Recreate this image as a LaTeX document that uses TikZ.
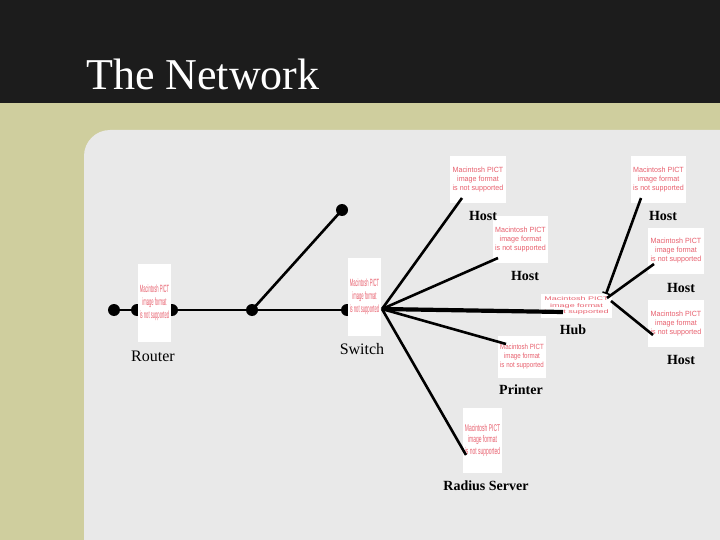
\documentclass[tikz,border=0pt]{standalone}
\usepackage{fontspec}
\usepackage{graphicx}
\setmainfont{Liberation Serif}
\newfontfamily\pictfont{Liberation Sans}
\usetikzlibrary{arrows.meta}
\definecolor{bandC}{RGB}{28,28,28}
\definecolor{oliveC}{RGB}{207,206,158}
\definecolor{panelC}{RGB}{233,233,233}
\definecolor{pictC}{RGB}{232,96,110}
\newcommand{\pictmsg}[2]{\scalebox{#1}[#2]{\pictfont\fontsize{7.5}{9}\selectfont\begin{tabular}{@{}c@{}}Macintosh PICT\\image format\\is not supported\end{tabular}}}

\begin{document}
\begin{tikzpicture}[
  x=1pt, y=-1pt,
  pict/.style={fill=white, inner sep=0pt, text=pictC, align=center},
  lbl/.style={font=\fontsize{16}{18}\selectfont, inner sep=0pt},
  lblb/.style={font=\fontsize{14}{16}\selectfont\bfseries, inner sep=0pt},
  dot/.style={circle, fill=black, minimum size=12pt, inner sep=0pt},
  link/.style={line width=2.6pt, draw=black},
  trunk/.style={line width=4.2pt, draw=black},
]
\useasboundingbox (0,0) rectangle (720,540);

% ---------- background ----------
\fill[oliveC] (0,0) rectangle (720,540);
\fill[bandC] (0,0) rectangle (720,103);
\fill[panelC, rounded corners=26pt] (84,600) -- (84,130) -- (780,130) -- (780,600) -- cycle;
\node[anchor=base west, text=white, font=\fontsize{44}{48}\selectfont, inner sep=0pt] (title) at (86,90) {The Network};

% ---------- bus ----------
\node[dot] (dL) at (114,310) {};
\node[dot] (dR1) at (137,310) {};
\node[dot] (dR2) at (172,310) {};
\node[dot] (dMid) at (252,310) {};
\node[dot] (dSw) at (347,310) {};
\node[dot] (dTop) at (342,210) {};
\draw[link] (dL.center) -- (dSw.center);
\draw[link] (dMid.center) -- (dTop.center);

% ---------- devices ----------
\node[pict, minimum width=33pt, minimum height=78pt] (router) at (154.5,303) {\pictmsg{0.55}{1.4}};
\node[pict, minimum width=33pt, minimum height=78pt] (switch) at (364.5,297) {\pictmsg{0.55}{1.4}};
\node[pict, minimum width=56pt, minimum height=47pt] (hostA) at (478,179.5) {\pictmsg{0.95}{1}};
\node[pict, minimum width=55pt, minimum height=47pt] (hostB) at (658.5,179.5) {\pictmsg{0.95}{1}};
\node[pict, minimum width=55pt, minimum height=47pt] (hostC) at (520.5,239.5) {\pictmsg{0.95}{1}};
\node[pict, minimum width=56pt, minimum height=46pt] (hostD) at (676,251) {\pictmsg{0.95}{1}};
\node[pict, minimum width=71pt, minimum height=24pt] (hub) at (576.5,306) {\pictmsg{1.2}{0.7}};
\node[pict, minimum width=56pt, minimum height=47pt] (hostE) at (676,323.5) {\pictmsg{0.95}{1}};
\node[pict, minimum width=48pt, minimum height=42pt] (printer) at (522,357) {\pictmsg{0.82}{1}};
\node[pict, minimum width=39pt, minimum height=65pt] (radius) at (482.5,440.5) {\pictmsg{0.66}{1.3}};

% ---------- labels ----------
\node[lbl] (lRouter) at (153,356) {Router};
\node[lbl] (lSwitch) at (362,349) {Switch};
\node[lblb] (lHostA) at (483,216) {Host};
\node[lblb] (lHostB) at (663,216) {Host};
\node[lblb] (lHostC) at (525,276) {Host};
\node[lblb] (lHostD) at (681,288) {Host};
\node[lblb] (lHub) at (573,330) {Hub};
\node[lblb] (lHostE) at (681,360) {Host};
\node[lblb] (lPrinter) at (521,390) {Printer};
\node[lblb] (lRadius) at (486,486) {Radius Server};

% ---------- ports ----------
\coordinate (swp) at (382,309);
\coordinate (pA) at (462,198);
\coordinate (pC) at (498,258);
\coordinate (pPr) at (506,344);
\coordinate (pRa) at (466,455);
\coordinate (hubIn) at (563,312);
\coordinate (hubT) at (606,294);
\coordinate (hubM) at (607,298);
\coordinate (hubB) at (611,301);
\coordinate (pB) at (641,198);
\coordinate (pD) at (654,264);
\coordinate (pE) at (653,335);

% ---------- links ----------
\draw[trunk] (swp) -- (hubIn);
\draw[link] (swp) -- (pA);
\draw[link] (swp) -- (pC);
\draw[link] (swp) -- (pPr);
\draw[link] (swp) -- (pRa);
\draw[link, {Bar[width=8pt,line width=1.5pt]}-] (hubT) -- (pB);
\draw[link] (hubM) -- (pD);
\draw[link] (hubB) -- (pE);

\end{tikzpicture}
\end{document}
